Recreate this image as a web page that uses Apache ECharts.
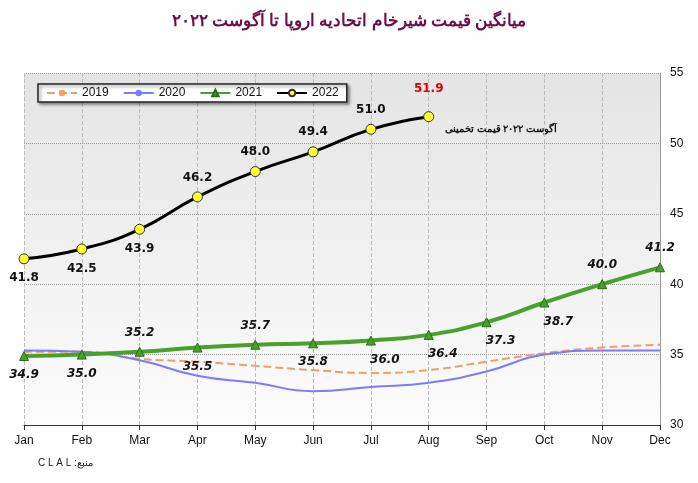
<!DOCTYPE html><html><head><meta charset="utf-8"><script src="https://cdn.jsdelivr.net/npm/echarts@6/dist/echarts.min.js"></script>
<style>body{margin:0;background:#fff}#c{width:698px;height:483px}</style></head><body><div id="c"></div><script>
const months=['Jan','Feb','Mar','Apr','May','Jun','Jul','Aug','Sep','Oct','Nov','Dec'];
const s2019=[35.2,35.2,34.7,34.5,34.2,33.9,33.7,33.9,34.5,35.1,35.5,35.7];
const s2020=[35.3,35.2,34.6,33.5,33.0,32.4,32.7,33.0,33.8,35.0,35.3,35.3];
const s2021=[34.9,35.0,35.2,35.5,35.7,35.8,36.0,36.4,37.3,38.7,40.0,41.2];
const s2022=[41.8,42.5,43.9,46.2,48.0,49.4,51.0,51.9];
const pos2021=['bottom','bottom','top','bottom','top','bottom','bottom','bottom','bottom','bottom','top','top'];
const pos2022=['bottom','bottom','bottom','top','top','top','top','top'];
const ch=echarts.init(document.getElementById('c'));
const fmt=p=>Number(p.value).toFixed(1);
const lbl={fontStyle:'italic',fontWeight:'bold',fontSize:12,color:'#111',fontFamily:'DejaVu Sans',formatter:fmt};
ch.setOption({
 title:{text:'میانگین قیمت شیرخام اتحادیه اروپا تا آگوست ۲۰۲۲',left:'center',top:8,textStyle:{fontSize:17,fontWeight:'bold',color:'#6b1048',fontFamily:'Noto Sans'}},
 graphic:[{type:'text',left:38,top:458,style:{text:'C L A L :منبع',fontSize:10,fill:'#222'}},
  {type:'text',left:445,top:124,style:{text:'آگوست ۲۰۲۲ قیمت تخمینی',fontSize:10,fontWeight:'bold',fill:'#111',fontFamily:'Noto Sans'}}],
 legend:{left:38,top:84,itemGap:14,itemWidth:30,itemHeight:8,backgroundColor:'#fff',borderColor:'#222',borderWidth:1.5,padding:[3,8],shadowColor:'rgba(0,0,0,0.4)',shadowBlur:3,shadowOffsetX:2,shadowOffsetY:2,textStyle:{fontSize:12,color:'#111'},data:['2019','2020','2021','2022']},
 grid:{left:24,right:38,top:73,bottom:58,show:true,borderWidth:0,backgroundColor:new echarts.graphic.LinearGradient(0,0,0,1,[{offset:0,color:'#e4e4e4'},{offset:1,color:'#fcfcfc'}])},
 xAxis:{type:'category',data:months,boundaryGap:false,axisLine:{lineStyle:{color:'#333'}},axisTick:{show:true,length:5,lineStyle:{color:'#333'}},axisLabel:{color:'#111',fontSize:12,margin:10},splitLine:{show:true,lineStyle:{type:'dashed',color:'#bbb'}}},
 yAxis:{type:'value',position:'right',min:30,max:55,interval:5,axisLine:{show:true,lineStyle:{color:'#999'}},axisLabel:{color:'#111',fontSize:12,margin:10},splitLine:{lineStyle:{type:'dotted',color:'#999'}}},
 series:[
  {name:'2019',type:'line',smooth:true,data:s2019,symbol:'none',lineStyle:{color:'#f0a060',width:2,type:'dashed'},itemStyle:{color:'#f0a060'}},
  {name:'2020',type:'line',smooth:true,data:s2020,symbol:'none',lineStyle:{color:'#7b7bff',width:2},itemStyle:{color:'#7b7bff'}},
  {name:'2021',type:'line',smooth:true,data:s2021.map((v,i)=>({value:v,label:{position:pos2021[i],offset:i>=6&&i<=9?[14,0]:[0,0]}})),symbol:'triangle',symbolSize:9,lineStyle:{color:'#4aa02c',width:4},itemStyle:{color:'#4aa02c',borderColor:'#2d6a1a',borderWidth:1},label:Object.assign({show:true,distance:8},lbl)},
  {name:'2022',type:'line',smooth:true,data:s2022.map((v,i)=>({value:v,label:i===7?{position:'top',color:'#e00000',offset:[0,-8]}:{position:pos2022[i]}})),symbol:'circle',symbolSize:10,lineStyle:{color:'#000',width:3},itemStyle:{color:'#ffff33',borderColor:'#333',borderWidth:1},label:Object.assign({show:true,distance:8},lbl,{fontStyle:'normal'})}
 ]});
</script></body></html>
